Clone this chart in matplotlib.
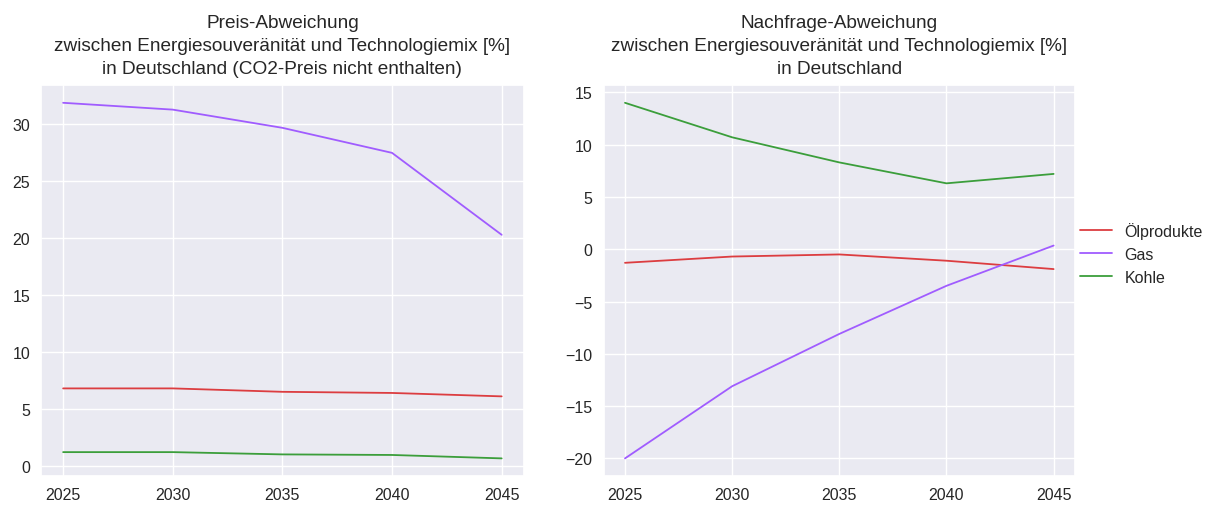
import numpy as np
import matplotlib.pyplot as plt
import seaborn as sns

years = [2025, 2030, 2035, 2040, 2045]

# Preis-Abweichung [%]
preis_oel = [6.8, 6.8, 6.5, 6.4, 6.1]
preis_gas = [31.9, 31.3, 29.7, 27.5, 20.3]
preis_kohle = [1.2, 1.2, 1.0, 0.95, 0.65]

# Nachfrage-Abweichung [%]
nachfrage_oel = [-1.3, -0.7, -0.5, -1.1, -1.9]
nachfrage_gas = [-20.0, -13.1, -8.1, -3.5, 0.35]
nachfrage_kohle = [14.0, 10.7, 8.3, 6.3, 7.2]

labels = ['Ölprodukte', 'Gas', 'Kohle']
colors = ['#dc3d40', '#a05cff', '#3b9e3b']

sns.set_theme(style='darkgrid')
plt.rcParams['font.family'] = ['Liberation Sans', 'DejaVu Sans']

fig = plt.figure(figsize=(12.12, 5.06), dpi=100)
ax1 = fig.add_axes([0.034, 0.057, 0.398, 0.773])
ax2 = fig.add_axes([0.498, 0.057, 0.389, 0.773])

for vals, lab, col in zip([preis_oel, preis_gas, preis_kohle], labels, colors):
    ax1.plot(years, vals, color=col, lw=1.3, label=lab)
for vals, lab, col in zip([nachfrage_oel, nachfrage_gas, nachfrage_kohle], labels, colors):
    ax2.plot(years, vals, color=col, lw=1.3, label=lab)

ax1.set_title('Preis-Abweichung\nzwischen Energiesouveränität und Technologiemix [%]\n'
              'in Deutschland (CO2-Preis nicht enthalten)',
              fontsize=13.7, linespacing=1.45, pad=9)
ax2.set_title('Nachfrage-Abweichung\nzwischen Energiesouveränität und Technologiemix [%]\n'
              'in Deutschland', fontsize=13.7, linespacing=1.45, pad=9)

for ax in (ax1, ax2):
    ax.set_xticks(years)
    ax.tick_params(labelsize=11.5, pad=2)

ax2.set_yticks(np.arange(-20, 16, 5))
ax2.legend(loc='center left', bbox_to_anchor=(0.98, 0.57), frameon=False, fontsize=11.5)

plt.savefig('out.png', dpi=100)
